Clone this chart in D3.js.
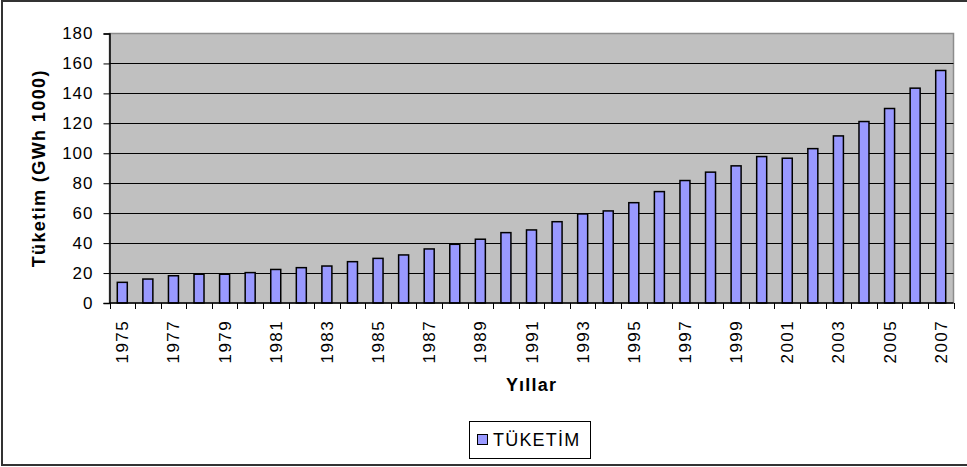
<!DOCTYPE html>
<html>
<head>
<meta charset="utf-8">
<script src="https://cdn.jsdelivr.net/npm/d3@7"></script>
<style>
	body { margin: 0; background: #fff; }
	svg text { font-family: "Liberation Sans", Arial, sans-serif; fill: #000; }
</style>
</head>
<body>
<svg id="grafik" width="967" height="467"></svg>
<script>
var yillar = d3.range(1975, 2008).map(String);
var tuketim = [13.8, 16.0, 18.2, 19.2, 19.2, 20.3, 22.4, 23.6, 24.7, 27.6, 29.8, 32.1,
	36.1, 39.2, 42.6, 47.0, 48.8, 54.3, 59.5, 61.5, 67.0, 74.4, 81.8, 87.4, 91.6, 97.8,
	96.7, 103.1, 111.6, 121.2, 129.9, 143.5, 155.3];
var yTicks = [0, 20, 40, 60, 80, 100, 120, 140, 160, 180];
var seriAdi = "TÜKETİM";

(function () {
	var svg = d3.select("#grafik");
	var sol = 109.5, sag = 953.5, ust = 33.5, alt = 303;

	// dis cerceve
	svg.append("rect").attr("x", 2).attr("y", 1).attr("width", 980).attr("height", 464)
		.attr("fill", "#fff").attr("stroke", "#333").attr("stroke-width", 2);

	var xb = d3.scaleBand().domain(yillar).range([sol, sag]);
	var y = d3.scaleLinear().domain([0, 180]).range([alt, ust]);

	svg.append("rect").attr("x", sol).attr("y", ust).attr("width", sag - sol).attr("height", alt - ust)
		.attr("fill", "#c0c0c0").attr("stroke", "#8c8c8c").attr("stroke-width", 1.5);

	svg.append("g").selectAll("line").data(yTicks.filter(d => d > 0 && d < 180)).join("line")
		.attr("x1", sol).attr("x2", sag)
		.attr("y1", d => Math.round(y(d)) + 0.5).attr("y2", d => Math.round(y(d)) + 0.5)
		.attr("stroke", "#000").attr("stroke-width", 1);

	svg.append("g").selectAll("rect").data(tuketim).join("rect")
		.attr("x", (d, i) => xb(yillar[i]) + (xb.bandwidth() - 10) / 2)
		.attr("width", 10)
		.attr("y", d => y(d))
		.attr("height", d => alt - y(d))
		.attr("fill", "#9999ff").attr("stroke", "#000").attr("stroke-width", 1.5);

	// y ekseni
	var yEks = svg.append("g").attr("transform", "translate(" + sol + ",0)")
		.call(d3.axisLeft(y).tickValues(yTicks).tickSize(6).tickPadding(10));
	yEks.select(".domain").attr("stroke", "#000").attr("stroke-width", 1.5);
	yEks.selectAll(".tick line").attr("stroke", "#000");
	yEks.selectAll("text").attr("font-size", "17px").attr("fill", "#000")
		.style("font-family", "'Liberation Sans', Arial, sans-serif").attr("letter-spacing", "1px");

	// x ekseni
	var xEks = svg.append("g").attr("transform", "translate(0," + alt + ")");
	xEks.append("line").attr("x1", sol).attr("x2", sag).attr("stroke", "#000").attr("stroke-width", 1.5);
	xEks.selectAll(".tik").data(yillar.concat(["son"])).join("line")
		.attr("x1", (d, i) => Math.round(sol + i * xb.step()) + 0.5)
		.attr("x2", (d, i) => Math.round(sol + i * xb.step()) + 0.5)
		.attr("y1", 0).attr("y2", 6).attr("stroke", "#000");
	xEks.selectAll(".etiket").data(yillar.filter((d, i) => i % 2 == 0)).join("text")
		.attr("transform", d => "translate(" + (xb(d) + xb.bandwidth() / 2 + 6) + ",17) rotate(-90)")
		.attr("text-anchor", "end")
		.attr("font-size", "17px").attr("letter-spacing", "1.4px")
		.text(d => d);

	svg.append("text").attr("x", (sol + sag) / 2).attr("y", 391)
		.attr("text-anchor", "middle").attr("font-size", "18px").attr("font-weight", "bold")
		.attr("letter-spacing", "1.2px").text("Yıllar");

	svg.append("text").attr("transform", "translate(45," + (ust + alt) / 2 + ") rotate(-90)")
		.attr("text-anchor", "middle").attr("font-size", "18px").attr("font-weight", "bold")
		.attr("letter-spacing", "1.4px").text("Tüketim (GWh 1000)");

	// lejant
	var lej = svg.append("g");
	lej.append("rect").attr("x", 469.5).attr("y", 421.5).attr("width", 121).attr("height", 37)
		.attr("fill", "#fff").attr("stroke", "#000").attr("stroke-width", 1);
	lej.append("rect").attr("x", 477.5).attr("y", 434.5).attr("width", 10).attr("height", 10)
		.attr("fill", "#9999ff").attr("stroke", "#000").attr("stroke-width", 1);
	lej.append("text").attr("x", 493).attr("y", 446).attr("font-size", "18px")
		.attr("letter-spacing", "1.2px").text(seriAdi);
})();
</script>
</body>
</html>
